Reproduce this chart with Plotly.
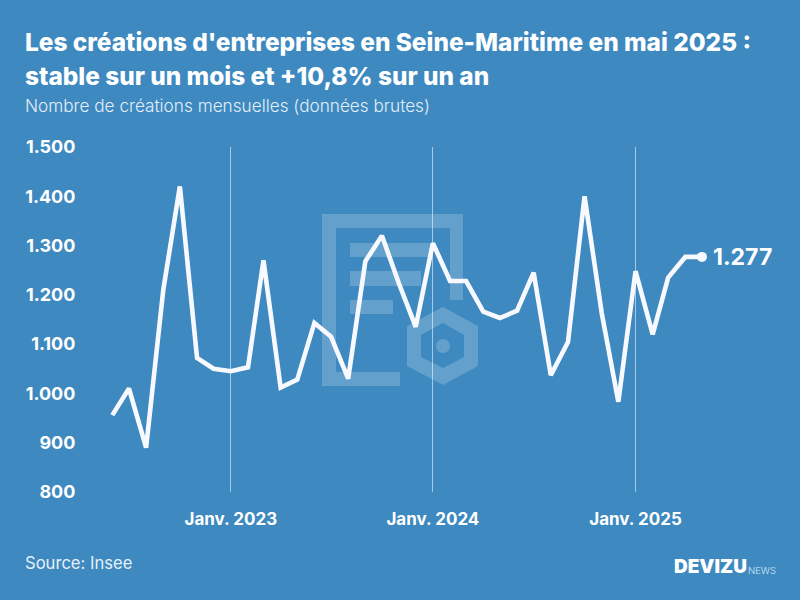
import plotly.graph_objects as go
import pandas as pd

months = pd.date_range("2022-06-01", "2025-05-01", freq="MS").strftime("%Y-%m-%d").tolist()
creations = [956, 1010, 890, 1210, 1420, 1072, 1050, 1045, 1053, 1270, 1012, 1028,
             1143, 1115, 1030, 1268, 1320, 1222, 1135, 1305, 1228, 1228, 1166, 1153,
             1168, 1245, 1037, 1104, 1400, 1163, 983, 1248, 1120, 1235, 1277, 1277]
y_ticks = [800, 900, 1000, 1100, 1200, 1300, 1400, 1500]
x_ticks = ["2023-01-01", "2024-01-01", "2025-01-01"]
x_labels = ["Janv. 2023", "Janv. 2024", "Janv. 2025"]

BG = "#3d89c0"
FONT = "Inter"
W, H = 800, 600
L, R, T, B = 83, 20, 147, 108


def px(x):
    return (x - L) / (W - L - R)


def py(y):
    return 1 - (y - T) / (H - T - B)


def poly(points):
    return "M" + " L".join(f"{px(x):.5f},{py(y):.5f}" for x, y in points) + " Z"


doc = [(322, 214), (463, 214), (463, 300), (450, 300), (450, 228), (336, 228),
       (336, 372), (400, 372), (400, 386), (322, 386)]
bars = [(350, 243, 430, 257), (350, 271, 421, 286), (350, 300, 393, 314)]
hex_out = [(443, 307), (478, 326), (478, 366), (443, 385), (407, 366), (407, 326)]
hex_in = [(443, 323), (464, 335), (464, 357), (443, 368), (421, 357), (421, 335)]
mark = dict(type="path", xref="paper", yref="paper", layer="below",
            fillcolor="rgba(255,255,255,0.2)", line_width=0)
shapes = [dict(mark, path=poly(doc)), dict(mark, path=poly(hex_out) + " " + poly(hex_in))]
for x0, y0, x1, y1 in bars:
    shapes.append(dict(mark, path=poly([(x0, y0), (x1, y0), (x1, y1), (x0, y1)])))
shapes.append(dict(type="circle", xref="paper", yref="paper", layer="below",
                   x0=px(436), x1=px(450), y0=py(353), y1=py(339),
                   fillcolor="rgba(255,255,255,0.2)", line_width=0))

fig = go.Figure(go.Scatter(
    x=months, y=creations, mode="lines+markers",
    line=dict(color="#f8f9ff", width=4.6),
    marker=dict(color="#f8f9ff", size=[0] * (len(creations) - 1) + [10], line_width=0, opacity=1),
    cliponaxis=False, hoverinfo="skip",
))


def text(x, y, s, size, color="#ffffff", weight=400, anchor="left", family=FONT):
    return dict(xref="paper", yref="paper", x=px(x - 2), y=py(y), text=s, showarrow=False,
                xanchor=anchor, yanchor="middle", align="left",
                font=dict(family=family, size=size, color=color, weight=weight))


annotations = [
    text(25, 42, "Les créations d'entreprises en Seine-Maritime en mai 2025 :", 24.4, weight=800),
    text(25, 75.5, "stable sur un mois et +10,8% sur un an", 24.4, weight=800),
    text(25, 105, "Nombre de créations mensuelles (données brutes)", 17.2, color="#e4eef8", weight=300),
    text(25, 563, "Source: Insee", 16.6, color="#e8f0f8"),
    text(674, 566, "DEVIZU", 19, weight=900),
    text(748, 570, "NEWS", 9.5, color="#dce9f5", weight=300),
    dict(x=months[-1], y=creations[-1], xref="x", yref="y",
         text=f"{creations[-1]:,}".replace(",", "."), showarrow=False,
         xanchor="left", yanchor="middle", xshift=9,
         font=dict(family=FONT, size=23, color="#ffffff", weight=700)),
]

fig.update_layout(
    width=W, height=H, autosize=False,
    margin=dict(l=L, r=R, t=T, b=B, pad=0),
    paper_bgcolor=BG, plot_bgcolor=BG,
    separators=",.", showlegend=False,
    font=dict(family=FONT, color="#ffffff"),
    shapes=shapes, annotations=annotations,
    xaxis=dict(type="date", range=["2022-04-09", "2025-09-19"],
               tickmode="array", tickvals=x_ticks, ticktext=x_labels,
               tickfont=dict(family=FONT, size=17, color="#ffffff", weight=700),
               showgrid=True, gridcolor="rgba(255,255,255,0.55)", gridwidth=1,
               zeroline=False, showline=False, ticks="outside", ticklen=12, tickcolor="rgba(0,0,0,0)"),
    yaxis=dict(range=[800, 1500], tickmode="array", tickvals=y_ticks, tickformat=",d",
               tickfont=dict(family=FONT, size=18, color="#ffffff", weight=700),
               showgrid=False, zeroline=False, showline=False,
               ticks="outside", ticklen=3, tickcolor="rgba(0,0,0,0)"),
)

fig.write_html("out.html", config=dict(displayModeBar=False),
               post_script="document.body.style.margin='0';document.documentElement.style.background='%s';" % BG)
